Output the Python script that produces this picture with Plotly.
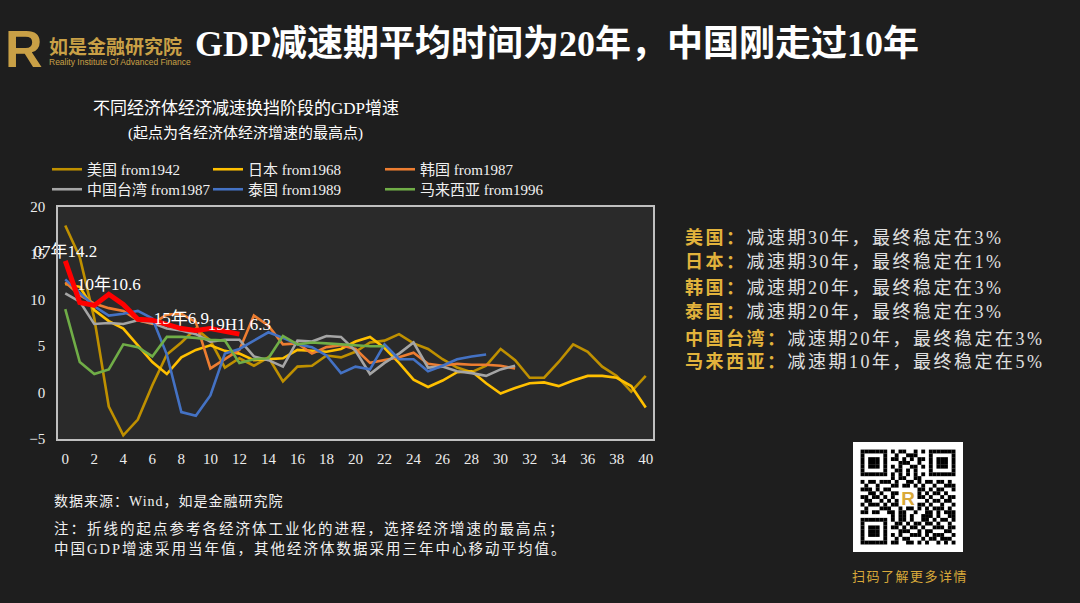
import base64
import plotly.graph_objects as go

# ---------------- data ----------------
years_idx = list(range(41))

us_from1942 = [18.0, 14.6, 8.0, -1.5, -4.6, -2.9, 0.8, 4.1, 5.4, 6.9, 5.6, 2.7, 3.7, 2.9, 3.8,
               1.2, 2.8, 2.9, 4.0, 3.8, 4.4, 5.4, 5.6, 6.3, 5.3, 4.7, 3.6, 2.7, 2.2, 2.9, 4.7,
               3.5, 1.6, 1.6, 3.3, 5.2, 4.4, 2.8, 1.8, 0.1, 1.8]
japan_from1968 = [11.7, 11.4, 8.9, 7.7, 6.9, 5.1, 3.3, 2.0, 3.8, 4.6, 5.1, 4.5, 4.2, 3.5, 3.6,
                  3.7, 4.6, 4.5, 4.4, 4.7, 5.5, 6.0, 4.8, 3.2, 1.4, 0.6, 1.3, 2.2, 2.3, 1.0, -0.1,
                  0.5, 1.0, 1.1, 0.7, 1.3, 1.8, 1.8, 1.6, 0.7, -1.6]
korea_from1987 = [11.9, 10.5, 9.6, 9.1, 8.8, 7.8, 7.4, 8.4, 8.5, 7.6, 2.6, 3.6, 4.6, 8.3, 7.2,
                  5.2, 5.3, 4.2, 4.9, 5.1, 4.7, 3.2, 3.5, 3.8, 4.3, 3.1, 2.9, 3.1, 3.0, 3.0,
                  2.9, 2.6]
taiwan_from1987 = [10.7, 9.8, 7.4, 7.5, 7.4, 7.8, 7.5, 6.9, 6.7, 6.3, 5.5, 5.7, 5.7, 3.9, 3.5,
                   2.8, 5.6, 5.5, 6.1, 6.0, 4.5, 2.0, 3.2, 4.2, 5.4, 2.7, 2.8, 2.3, 2.1, 1.8,
                   2.5, 2.9]
thailand_from1989 = [12.2, 10.7, 9.3, 8.3, 8.5, 8.8, 8.0, 4.1, -2.1, -2.5, -0.3, 4.2, 4.7, 5.6,
                     6.5, 5.9, 5.2, 4.9, 4.0, 2.1, 2.8, 2.5, 5.2, 3.6, 3.6, 2.3, 2.9, 3.6, 3.9,
                     4.1]
malaysia_from1996 = [9.0, 3.3, 2.0, 2.5, 5.2, 4.9, 3.9, 6.0, 6.0, 5.9, 5.7, 5.6, 3.2, 3.6, 3.7,
                     6.1, 5.2, 5.4, 5.3, 5.2, 5.1, 5.0, 5.0]
china_from2007 = [14.2, 9.7, 9.4, 10.6, 9.5, 7.9, 7.8, 7.3, 6.9, 6.7, 6.9, 6.6, 6.3]
china_labels = ["07年14.2", "", "", "10年10.6", "", "", "", "", "15年6.9", "", "", "", "19H1 6.3"]

series_names = ["美国 from1942", "日本 from1968", "韩国 from1987",
                "中国台湾 from1987", "泰国 from1989", "马来西亚 from1996"]
series_values = [us_from1942, japan_from1968, korea_from1987,
                 taiwan_from1987, thailand_from1989, malaysia_from1996]
series_colors = ["#BF9000", "#FFC000", "#ED7D31", "#A5A5A5", "#4472C4", "#70AD47"]

x_ticks = list(range(0, 41, 2))
y_ticks = [-5, 0, 5, 10, 15, 20]

side_labels = ["美国：", "日本：", "韩国：", "泰国：", "中国台湾：", "马来西亚："]
side_texts = ["减速期30年，最终稳定在3%", "减速期30年，最终稳定在1%", "减速期20年，最终稳定在3%",
              "减速期20年，最终稳定在3%", "减速期20年，最终稳定在3%", "减速期10年，最终稳定在5%"]

# ---------------- layout helpers ----------------
W, H = 1080, 603
PL, PR, PT, PB = 58, 653, 207, 439
PW, PH = PR - PL, PB - PT


def px(x):
    return (x - PL) / PW


def py(y):
    return (PB - y) / PH


SERIF = "Liberation Serif, Noto Sans CJK SC, serif"
CJK = "Noto Sans CJK SC, sans-serif"
GOLD = "#E2B33C"
LOGO = "#C9A046"

# legend grid (3 columns x 2 rows)
legend_ids = ["legend", "legend2", "legend3", "legend4", "legend5", "legend6"]
legend_x_px = [47, 208, 380, 47, 208, 380]
legend_y_px = [153, 153, 153, 173, 173, 173]

fig = go.Figure()

for name, vals, col, lg in zip(series_names, series_values, series_colors, legend_ids):
    fig.add_trace(go.Scatter(
        x=years_idx[:len(vals)], y=vals, mode="lines", name=name, legend=lg,
        line=dict(color=col, width=2.6), hoverinfo="skip"))

fig.add_trace(go.Scatter(
    x=years_idx[:len(china_from2007)], y=china_from2007, mode="lines+text", name="中国 from2007",
    text=china_labels, textposition="top center", cliponaxis=False,
    textfont=dict(family=SERIF, size=17, color="#FFFFFF"),
    line=dict(color="#FF0000", width=5), showlegend=False, hoverinfo="skip"))

annotations = []

# main title
annotations.append(dict(x=px(557), y=py(44), xref="paper", yref="paper",
                        text="<b>GDP减速期平均时间为20年，中国刚走过10年</b>", showarrow=False,
                        font=dict(family=SERIF, size=36, color="#FFFFFF"),
                        xanchor="center", yanchor="middle"))
# logo
annotations.append(dict(x=px(24), y=py(49), xref="paper", yref="paper", text="<b>R</b>",
                        showarrow=False, font=dict(family="Liberation Sans, sans-serif", size=52, color=LOGO),
                        xanchor="center", yanchor="middle"))
annotations.append(dict(x=px(47), y=py(45), xref="paper", yref="paper", text="<b>如是金融研究院</b>",
                        showarrow=False, font=dict(family=CJK, size=19, color=LOGO),
                        xanchor="left", yanchor="middle"))
annotations.append(dict(x=px(47), y=py(62), xref="paper", yref="paper",
                        text="Reality Institute Of Advanced Finance",
                        showarrow=False, font=dict(family="Liberation Sans, sans-serif", size=8.5, color=LOGO),
                        xanchor="left", yanchor="middle"))
# chart titles
annotations.append(dict(x=px(246), y=py(108), xref="paper", yref="paper",
                        text="不同经济体经济减速换挡阶段的GDP增速", showarrow=False,
                        font=dict(family=SERIF, size=17, color="#FFFFFF"),
                        xanchor="center", yanchor="middle"))
annotations.append(dict(x=px(245), y=py(133), xref="paper", yref="paper",
                        text="(起点为各经济体经济增速的最高点)", showarrow=False,
                        font=dict(family=SERIF, size=15, color="#FFFFFF"),
                        xanchor="center", yanchor="middle"))
# side notes
side_y = [237, 262, 287, 312, 338, 362]
for lab, txt, yy in zip(side_labels, side_texts, side_y):
    annotations.append(dict(
        x=px(683), y=py(yy), xref="paper", yref="paper", showarrow=False,
        text=f"<span style='letter-spacing:2.5px'><span style='color:{GOLD}'><b>{lab}</b></span>{txt}</span>",
        font=dict(family=SERIF, size=18, color="#E0E0E0"),
        xanchor="left", yanchor="middle"))
# bottom notes
annotations.append(dict(x=px(52), y=py(501), xref="paper", yref="paper", showarrow=False,
                        text="<span style='letter-spacing:1px'>数据来源：Wind，如是金融研究院</span>",
                        font=dict(family=SERIF, size=14, color="#F0F0F0"),
                        xanchor="left", yanchor="middle"))
annotations.append(dict(x=px(52), y=py(529), xref="paper", yref="paper", showarrow=False,
                        text="<span style='letter-spacing:2px'>注：折线的起点参考各经济体工业化的进程，选择经济增速的最高点；</span>",
                        font=dict(family=SERIF, size=14.5, color="#F0F0F0"),
                        xanchor="left", yanchor="middle"))
annotations.append(dict(x=px(52), y=py(549), xref="paper", yref="paper", showarrow=False,
                        text="<span style='letter-spacing:2px'>中国GDP增速采用当年值，其他经济体数据采用三年中心移动平均值。</span>",
                        font=dict(family=SERIF, size=14.5, color="#F0F0F0"),
                        xanchor="left", yanchor="middle"))
# QR caption
annotations.append(dict(x=px(910), y=py(575), xref="paper", yref="paper", showarrow=False,
                        text="<span style='letter-spacing:1.5px'>扫码了解更多详情</span>",
                        font=dict(family=CJK, size=13, color="#D9A93A"),
                        xanchor="center", yanchor="middle"))

# decorative QR-like image (SVG)
qr_rows = [
    "1111111" + "01011001010" + "1111111",
    "1000001" + "00100111000" + "1000001",
    "1011101" + "01101010110" + "1011101",
    "1011101" + "00011100100" + "1011101",
    "1011101" + "01010011010" + "1011101",
    "1000001" + "00110101000" + "1000001",
    "1111111" + "01010101010" + "1111111",
    "00000000" + "101100110" + "00000000",
    "1011011101001101011011010",
    "0100100011011010100100111",
    "1110101100110101101011001",
    "0011010011001011010110100",
    "1101101010111001101001011",
    "0110010101100110010110110",
    "1011101011010011101001001",
    "0100011100101101010111010",
    "1101100110110010011010111",
    "00000000" + "10110100111010011",
    "1111111" + "0" + "10110100110101101",
    "1000001" + "0" + "01101011011010010",
    "1011101" + "0" + "11010110100111011",
    "1011101" + "0" + "00111001011000110",
    "1011101" + "0" + "10100111010111001",
    "1000001" + "0" + "01011000101101110",
    "1111111" + "0" + "11001101010010101",
]
n = 25
cells = []
for r, row in enumerate(qr_rows):
    row = (row + "0" * n)[:n]
    for c, ch in enumerate(row):
        if ch == "1" and not (10 <= r <= 14 and 10 <= c <= 14):
            cells.append(f"<rect x='{c + 2}' y='{r + 2}' width='1.02' height='1.02' fill='#000'/>")
svg = (f"<svg xmlns='http://www.w3.org/2000/svg' viewBox='0 0 {n + 4} {n + 4}' width='290' height='290'>"
       f"<rect width='{n + 4}' height='{n + 4}' fill='#fff'/>" + "".join(cells) +
       "<text x='14.5' y='16.6' font-size='5' text-anchor='middle' font-family='Liberation Sans' "
       "font-weight='bold' fill='#D9A93A'>R</text></svg>")
src = "data:image/svg+xml;base64," + base64.b64encode(svg.encode()).decode()

legend_common = dict(orientation="h", xref="paper", yref="paper", xanchor="left", yanchor="top",
                     itemwidth=30, font=dict(family=SERIF, size=15, color="#F0F0F0"),
                     bgcolor="rgba(0,0,0,0)", tracegroupgap=0)
legend_layout = {lid: dict(x=px(lx), y=py(ly), **legend_common)
                 for lid, lx, ly in zip(legend_ids, legend_x_px, legend_y_px)}

fig.update_layout(
    width=W, height=H,
    paper_bgcolor="#1E1E1E", plot_bgcolor="#2A2A2A",
    margin=dict(l=PL, r=W - PR, t=PT, b=H - PB, pad=0, autoexpand=False),
    font=dict(family=SERIF, color="#EDEDED"),
    showlegend=True,
    xaxis=dict(range=[-0.5, 40.5], tickvals=x_ticks, ticktext=[str(v) for v in x_ticks],
               showgrid=False, zeroline=False, showline=True, mirror=True,
               linecolor="#BFBFBF", linewidth=1.5, ticks="",
               tickfont=dict(family=SERIF, size=15, color="#EDEDED"), ticklabelstandoff=5),
    xaxis2=dict(range=[-0.5, 40.5], overlaying="x", anchor="free", position=0.2, side="bottom",
                tickvals=[v + 1.5 for v in x_ticks[:-1]], ticks="outside", ticklen=5,
                tickcolor="#BFBFBF", tickwidth=1.5, showticklabels=False, showgrid=False,
                zeroline=False, showline=True, linecolor="#BFBFBF", linewidth=1.5),
    yaxis=dict(range=[-5, 20], tickvals=y_ticks, showgrid=False, zeroline=False,
               showline=True, mirror=True, linecolor="#BFBFBF", linewidth=1.5, ticks="",
               tickfont=dict(family=SERIF, size=15, color="#EDEDED"), ticklabelstandoff=8),
    annotations=annotations,
    images=[dict(source=src, xref="paper", yref="paper", x=px(853), y=py(442),
                 sizex=(963 - 853) / PW, sizey=(552 - 442) / PH, xanchor="left", yanchor="top",
                 sizing="stretch", layer="above")],
    **legend_layout,
)

fig.write_html("out.html", config={"displayModeBar": False},
               post_script="document.body.style.margin='0';document.body.style.background='#1E1E1E';")
